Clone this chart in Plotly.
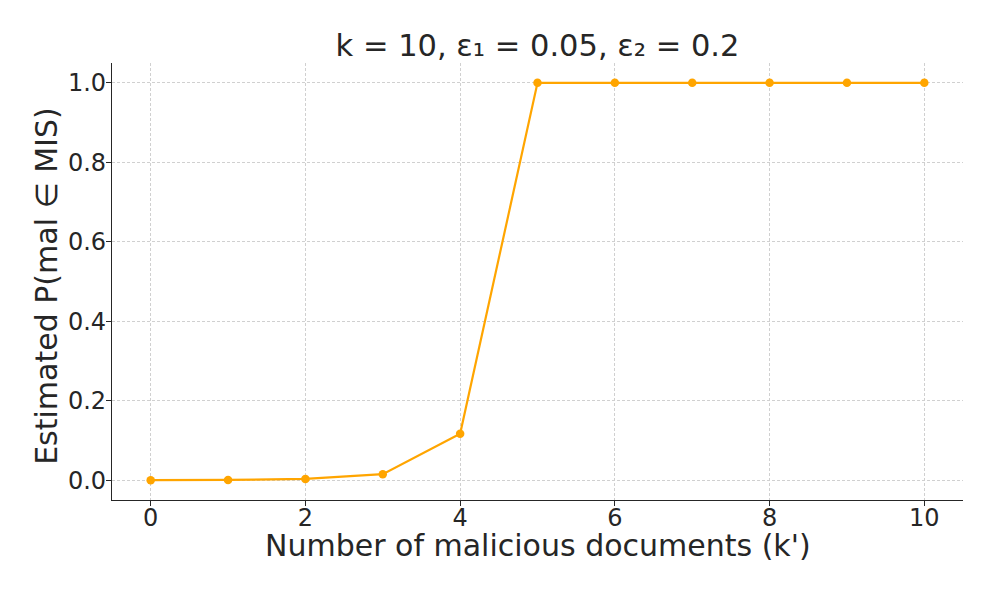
import plotly.graph_objects as go

k_values = [0, 1, 2, 3, 4, 5, 6, 7, 8, 9, 10]
prob_values = [0.0, 0.0005, 0.003, 0.015, 0.117, 1.0, 1.0, 1.0, 1.0, 1.0, 1.0]
x_ticks = [0, 2, 4, 6, 8, 10]
y_ticks = [0.0, 0.2, 0.4, 0.6, 0.8, 1.0]
title_text = "k = 10, ε₁ = 0.05, ε₂ = 0.2"
x_title = "Number of malicious documents (k')"
y_title = "Estimated P(mal ∈ MIS)"

# The page body has an 8px default margin, so the figure is sized to fit inside it.
W, H = 988, 590
TXT = "#262626"

fig = go.Figure()
fig.add_trace(go.Scatter(
    x=k_values, y=prob_values, mode="lines+markers",
    line=dict(color="#FFA500", width=2.2),
    marker=dict(color="#FFA500", size=8.5),
    showlegend=False,
))

axis_common = dict(
    showline=True, linecolor=TXT, linewidth=1.2,
    ticks="outside", ticklen=5, tickwidth=1.2, tickcolor=TXT,
    showgrid=True, gridcolor="#d0d0d0", griddash="3px,2px", gridwidth=0.8,
    zeroline=False, mirror=False, automargin=False,
    tickfont=dict(family="DejaVu Sans", size=24, color=TXT),
)

fig.update_layout(
    width=W, height=H,
    paper_bgcolor="white", plot_bgcolor="white",
    margin=dict(l=104, r=33, t=55, b=98),
    title=dict(text=title_text, x=529.5 / W, xanchor="center",
               y=1 - 37 / H, yanchor="middle",
               font=dict(family="DejaVu Sans", size=30.5, color=TXT)),
    xaxis=dict(range=[-0.5, 10.5], tickvals=x_ticks,
               ticktext=[str(v) for v in x_ticks], ticklabelstandoff=-9,
               **axis_common),
    yaxis=dict(range=[-0.05, 1.05], tickvals=y_ticks,
               ticktext=[f"{v:.1f}" for v in y_ticks], ticklabelstandoff=-5,
               **axis_common),
    annotations=[
        dict(text=x_title, xref="paper", yref="paper", x=0.5, y=-0.105,
             xanchor="center", yanchor="middle", showarrow=False,
             font=dict(family="DejaVu Sans", size=30, color=TXT)),
        dict(text=y_title, xref="paper", yref="paper", x=-0.0764, y=0.49,
             xanchor="center", yanchor="middle", showarrow=False, textangle=-90,
             font=dict(family="DejaVu Sans", size=30, color=TXT)),
    ],
)

fig.write_html("out.html")
